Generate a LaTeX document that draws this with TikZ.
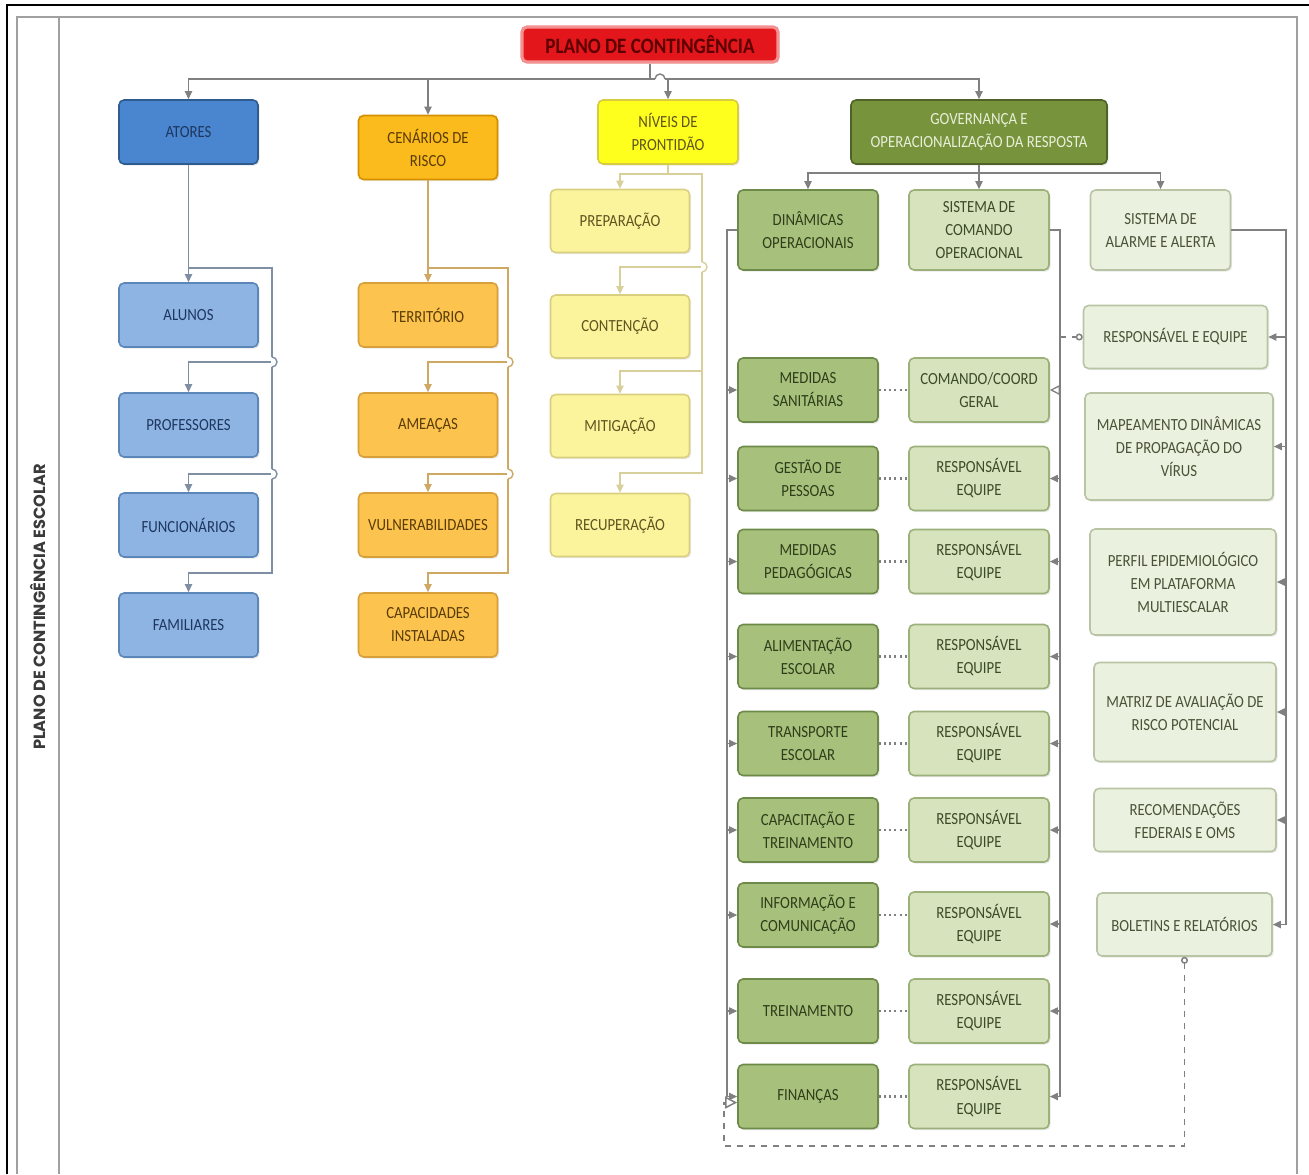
\documentclass[tikz,border=0pt]{standalone}
\usepackage{fontspec}
\setmainfont{Carlito}[FakeStretch=0.87]
\newfontfamily\titlefont{Poppins}
\usetikzlibrary{arrows.meta,calc,shadows}
\definecolor{rootred}{HTML}{E3171B}
\definecolor{rootglow}{HTML}{F59090}
\definecolor{roottext}{HTML}{5C0000}
\definecolor{atfill}{HTML}{4A86CF}
\definecolor{atdraw}{HTML}{2E5C8F}
\definecolor{bfill}{HTML}{8EB4E3}
\definecolor{bdraw}{HTML}{5B86B8}
\definecolor{btext}{HTML}{1E3760}
\definecolor{cfill}{HTML}{FBBB1C}
\definecolor{cdraw}{HTML}{D49000}
\definecolor{ofill}{HTML}{FCC34F}
\definecolor{odraw}{HTML}{D8A03A}
\definecolor{otext}{HTML}{5A3C05}
\definecolor{nfill}{HTML}{FFFF1E}
\definecolor{ndraw}{HTML}{D8CC40}
\definecolor{yfill}{HTML}{FBF49C}
\definecolor{ydraw}{HTML}{D9CF80}
\definecolor{ytext}{HTML}{5F5520}
\definecolor{govfill}{HTML}{77933C}
\definecolor{govdraw}{HTML}{4F6228}
\definecolor{govtext}{HTML}{E8EED8}
\definecolor{dfill}{HTML}{A7C17C}
\definecolor{ddraw}{HTML}{6D8A48}
\definecolor{dtext}{HTML}{2F3D1A}
\definecolor{mfill}{HTML}{D7E3BD}
\definecolor{mdraw}{HTML}{9CB07A}
\definecolor{mtext}{HTML}{3D4A28}
\definecolor{rfill}{HTML}{EBF1DF}
\definecolor{rdraw}{HTML}{B9C4A5}
\definecolor{rtext}{HTML}{4A5238}
\definecolor{linegray}{HTML}{808080}
\definecolor{blueline}{HTML}{7F8FA3}
\definecolor{orangeline}{HTML}{CFA864}
\definecolor{yellowline}{HTML}{D8D09A}
\definecolor{framegray}{HTML}{A0A0A0}
\definecolor{titlegray}{HTML}{3A3A3A}
\newcommand\cjump[3]{%
  \fill[white] ({#1-1.5},{#2-5}) rectangle ({#1+1.5},{#2+5});
  \draw[#3, line width=0.7pt] (#1,{#2-5}) arc[start angle=-90,end angle=90,radius=5];}
\newcommand\hjumpup[3]{%
  \fill[white] ({#1-5},{#2-1.5}) rectangle ({#1+5},{#2+1.5});
  \draw[#3, line width=0.7pt] ({#1-5},#2) arc[start angle=180,end angle=360,radius=5];}
\begin{document}
\begin{tikzpicture}[x=0.5pt,y=-0.5pt,
  wh/.style 2 args={minimum width=#1*0.5pt, minimum height=#2*0.5pt},
  box/.style={draw, rounded corners=2.5pt, line width=0.8pt, align=center, inner sep=1pt,
    font=\fontsize{8.5}{11.5}\selectfont,
    drop shadow={opacity=0.18, shadow xshift=0.8pt, shadow yshift=-0.8pt}},
  atbox/.style={box, fill=atfill, draw=atdraw, text=btext},
  bbox/.style={box, fill=bfill, draw=bdraw, text=btext},
  cbox/.style={box, fill=cfill, draw=cdraw, text=otext},
  obox/.style={box, fill=ofill, draw=odraw, text=otext},
  nbox/.style={box, fill=nfill, draw=ndraw, text=ytext},
  ybox/.style={box, fill=yfill, draw=ydraw, text=ytext},
  govbox/.style={box, fill=govfill, draw=govdraw, text=govtext},
  dbox/.style={box, fill=dfill, draw=ddraw, text=dtext},
  mbox/.style={box, fill=mfill, draw=mdraw, text=mtext},
  rbox/.style={box, fill=rfill, draw=rdraw, text=rtext},
  tip/.style={-{Triangle[length=4pt,width=3.6pt]}},
  conn/.style={draw=linegray, line width=0.75pt, tip},
  bconn/.style={draw=blueline, line width=0.75pt, tip},
  oconn/.style={draw=orangeline, line width=0.75pt, tip},
  yconn/.style={draw=yellowline, line width=0.75pt, tip},
  gconn/.style={draw=linegray, line width=0.65pt, tip},
  dotc/.style={draw=linegray, line width=1.1pt, dash pattern=on 1pt off 1.6pt},
  dashc/.style={draw=linegray, line width=0.75pt, dashed},
]
\useasboundingbox (0,0) rectangle (1309,1174);
% frames
\draw[black, line width=1.2pt] (7,1174) -- (7,5) -- (1309,5);
\draw[framegray, line width=0.8pt] (17,1174) -- (17,17) -- (1297,17) -- (1297,1174);
\draw[framegray, line width=0.8pt] (59,17) -- (59,1174);
\node[rotate=90, text=titlegray, font=\titlefont\bfseries\fontsize{8.1}{10}\selectfont] (vtitle) at (38,607) {PLANO DE CONTINGÊNCIA ESCOLAR};

% root and first level
\node[box, wh={256}{35}, fill=rootred, draw=rootglow, line width=1.6pt, text=roottext,
  font=\bfseries\fontsize{11}{13}\selectfont] (root) at (650,44.5) {PLANO DE CONTINGÊNCIA};
\node[atbox, wh={139}{64}] (atores) at (188.5,132) {ATORES};
\node[cbox, wh={139}{64}] (cen) at (428,147.5) {CENÁRIOS DE\\RISCO};
\node[nbox, wh={140}{64}] (niv) at (668,132) {NÍVEIS DE\\PRONTIDÃO};
\node[govbox, wh={256}{64}] (gov) at (979,132) {GOVERNANÇA E\\OPERACIONALIZAÇÃO DA RESPOSTA};

% blue column
\node[bbox, wh={139}{64}] (alu) at (188.5,315) {ALUNOS};
\node[bbox, wh={139}{64}] (prof) at (188.5,425) {PROFESSORES};
\node[bbox, wh={139}{64}] (func) at (188.5,525) {FUNCIONÁRIOS};
\node[bbox, wh={139}{64}] (fam) at (188.5,625) {FAMILIARES};

% orange column
\node[obox, wh={139}{64}] (ter) at (428,315) {TERRITÓRIO};
\node[obox, wh={139}{64}] (ame) at (428,425) {AMEAÇAS};
\node[obox, wh={139}{64}] (vul) at (428,525) {VULNERABILIDADES};
\node[obox, wh={139}{64}] (cap) at (428,625) {CAPACIDADES\\INSTALADAS};

% yellow column
\node[ybox, wh={139}{63}] (prep) at (620,221) {PREPARAÇÃO};
\node[ybox, wh={139}{63}] (cont) at (620,326.5) {CONTENÇÃO};
\node[ybox, wh={139}{63}] (miti) at (620,426) {MITIGAÇÃO};
\node[ybox, wh={139}{63}] (recu) at (620,525) {RECUPERAÇÃO};

% green second level
\node[dbox, wh={140}{80}] (din) at (808,230) {DINÂMICAS\\OPERACIONAIS};
\node[mbox, wh={140}{80}] (sco) at (979,230) {SISTEMA DE\\COMANDO\\OPERACIONAL};
\node[rbox, wh={140}{80}] (saa) at (1160.5,230) {SISTEMA DE\\ALARME E ALERTA};

% left green column
\node[dbox, wh={140}{64}] (l1) at (808,390) {MEDIDAS\\SANITÁRIAS};
\node[dbox, wh={140}{64}] (l2) at (808,478.5) {GESTÃO DE\\PESSOAS};
\node[dbox, wh={140}{64}] (l3) at (808,561.5) {MEDIDAS\\PEDAGÓGICAS};
\node[dbox, wh={140}{64}] (l4) at (808,656.5) {ALIMENTAÇÃO\\ESCOLAR};
\node[dbox, wh={140}{64}] (l5) at (808,743.5) {TRANSPORTE\\ESCOLAR};
\node[dbox, wh={140}{64}] (l6) at (808,830) {CAPACITAÇÃO E\\TREINAMENTO};
\node[dbox, wh={140}{64}] (l7) at (808,915) {INFORMAÇÃO E\\COMUNICAÇÃO};
\node[dbox, wh={140}{64}] (l8) at (808,1011) {TREINAMENTO};
\node[dbox, wh={140}{64}] (l9) at (808,1096.5) {FINANÇAS};

% middle green column
\node[mbox, wh={140}{64}] (m1) at (979,390) {COMANDO/COORD\\GERAL};
\node[mbox, wh={140}{64}] (m2) at (979,478.5) {RESPONSÁVEL\\EQUIPE};
\node[mbox, wh={140}{64}] (m3) at (979,561.5) {RESPONSÁVEL\\EQUIPE};
\node[mbox, wh={140}{64}] (m4) at (979,656.5) {RESPONSÁVEL\\EQUIPE};
\node[mbox, wh={140}{64}] (m5) at (979,743.5) {RESPONSÁVEL\\EQUIPE};
\node[mbox, wh={140}{64}] (m6) at (979,830) {RESPONSÁVEL\\EQUIPE};
\node[mbox, wh={140}{64}] (m7) at (979,924) {RESPONSÁVEL\\EQUIPE};
\node[mbox, wh={140}{64}] (m8) at (979,1011) {RESPONSÁVEL\\EQUIPE};
\node[mbox, wh={140}{64}] (m9) at (979,1096.5) {RESPONSÁVEL\\EQUIPE};

% right column
\node[rbox, wh={184}{63}] (re) at (1175.5,337) {RESPONSÁVEL E EQUIPE};
\node[rbox, wh={188}{107}] (map) at (1179,446.5) {MAPEAMENTO DINÂMICAS\\DE PROPAGAÇÃO DO\\VÍRUS};
\node[rbox, wh={186}{106}] (perf) at (1183,582) {PERFIL EPIDEMIOLÓGICO\\EM PLATAFORMA\\MULTIESCALAR};
\node[rbox, wh={182}{99}] (mat) at (1185,712) {MATRIZ DE AVALIAÇÃO DE\\RISCO POTENCIAL};
\node[rbox, wh={182}{63}] (rec) at (1185,820) {RECOMENDAÇÕES\\FEDERAIS E OMS};
\node[rbox, wh={175}{63}] (bol) at (1184.5,924.5) {BOLETINS E RELATÓRIOS};

% top bus
\draw[conn] (root.south) -- (650,79) -| (atores.north);
\draw[conn] (root.south) -- (650,79) -| (cen.north);
\draw[conn] (root.south) -- (650,79) -| (niv.north);
\draw[conn] (root.south) -- (650,79) -| (gov.north);
\hjumpup{660}{79}{linegray}

% blue connectors
\draw[bconn] (atores.south) -- (alu.north);
\draw[bconn] (atores.south) |- (272,268) -- (272,362) -| (prof.north);
\draw[bconn] (atores.south) |- (272,268) -- (272,474) -| (func.north);
\draw[bconn] (atores.south) |- (272,268) -- (272,573) -| (fam.north);
\cjump{272}{362}{blueline}
\cjump{272}{474}{blueline}

% orange connectors
\draw[oconn] (cen.south) -- (ter.north);
\draw[oconn] (cen.south) |- (508,268) -- (508,362) -| (ame.north);
\draw[oconn] (cen.south) |- (508,268) -- (508,474) -| (vul.north);
\draw[oconn] (cen.south) |- (508,268) -- (508,573) -| (cap.north);
\cjump{508}{362}{orangeline}
\cjump{508}{474}{orangeline}

% yellow connectors
\draw[yconn] (niv.south) -- (668,174) -| (prep.north);
\draw[yconn] (niv.south) -- (668,174) -| (702,267) -| (cont.north);
\draw[yconn] (niv.south) -- (668,174) -| (702,371) -| (miti.north);
\draw[yconn] (niv.south) -- (668,174) -| (702,473) -| (recu.north);
\cjump{702}{267}{yellowline}

% governance bus
\draw[gconn] (gov.south) -- (979,173) -| (din.north);
\draw[gconn] (gov.south) -- (979,173) -| (sco.north);
\draw[gconn] (gov.south) -- (979,173) -| (saa.north);

% dinamicas trunk
\foreach \i in {1,...,9} {\draw[gconn] (din.west) -- (727,230) |- (l\i.west);}
% comando trunk
\draw[draw=linegray, line width=0.65pt, -{Triangle[open,length=5pt,width=5pt]}] (sco.east) -- (1060,230) |- (m1.east);
\foreach \i in {2,...,9} {\draw[gconn] (sco.east) -- (1060,230) |- (m\i.east);}
\coordinate (tap) at (1060,337);
\draw[dashc, -{Circle[open,length=3.5pt]}] (tap) -- (re.west);
% alarme trunk
\foreach \n in {re,map,perf,mat,rec,bol} {\draw[gconn] (saa.east) -- (1286,230) |- (\n.east);}

% dotted links
\foreach \i in {1,...,9} {\draw[dotc] (l\i.east) -- (l\i.east -| m\i.west);}

% dashed feedback loop
\draw[dashc, {Circle[open,length=3.5pt]}-{Triangle[open,length=6pt,width=6pt]}]
  (bol.south) |- (724,1146) |- ([yshift=-3pt]l9.west);
\end{tikzpicture}
\end{document}
